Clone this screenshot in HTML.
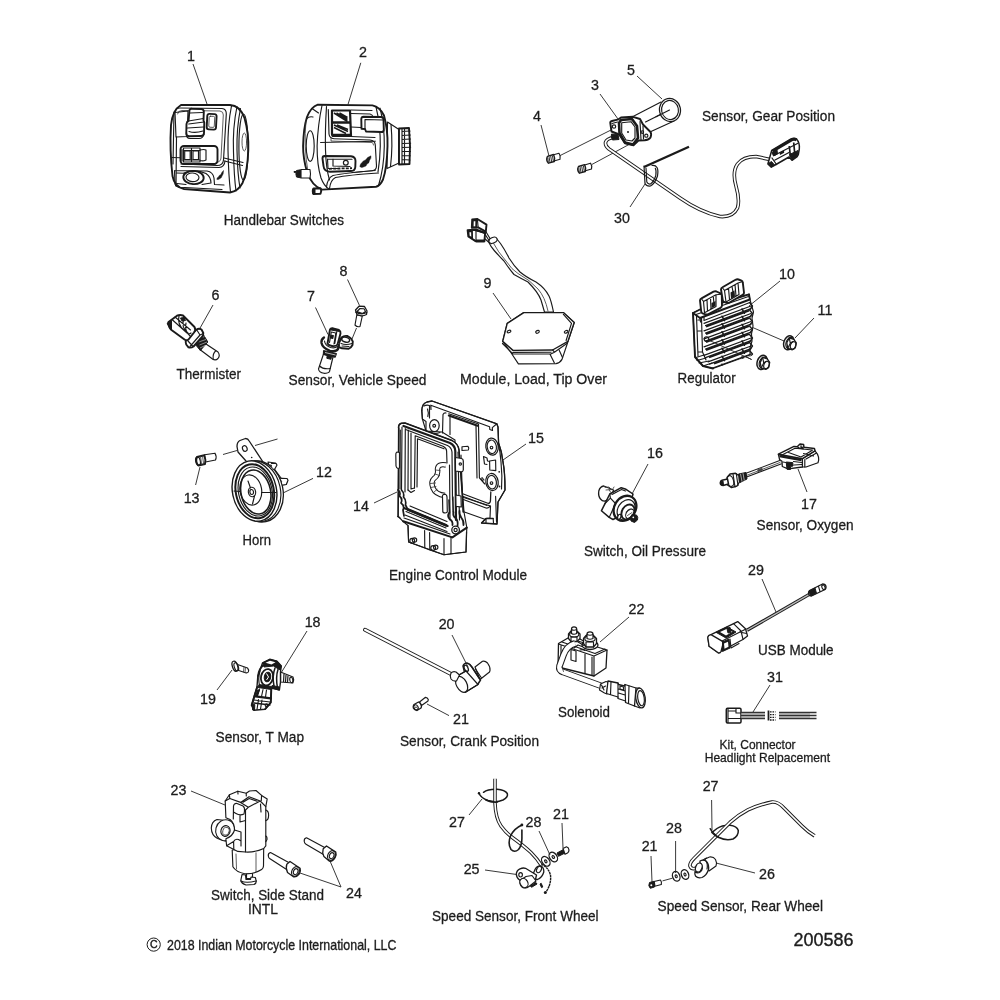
<!DOCTYPE html>
<html><head><meta charset="utf-8"><title>Electrical, Switches, Sensors and Components</title>
<style>
html,body{margin:0;padding:0;background:#fff;}
body{width:1000px;height:1000px;overflow:hidden;font-family:"Liberation Sans",sans-serif;}
svg{display:block;position:absolute;left:0;top:0;}
svg text{font-family:"Liberation Sans",sans-serif;fill:#1c1c1c;stroke:#1c1c1c;stroke-width:.28px;}
.n{font-size:14px;text-anchor:middle;}
.t{font-size:14px;}
.s{font-size:12.4px;}
.ld{stroke:#222;stroke-width:0.9;fill:none;}
.p{stroke:#1a1a1a;stroke-width:1.15;fill:none;stroke-linejoin:round;stroke-linecap:round;}
.pw{stroke:#1a1a1a;stroke-width:1.15;fill:#fff;stroke-linejoin:round;stroke-linecap:round;}
.pk{stroke:#1a1a1a;stroke-width:1;fill:#1a1a1a;stroke-linejoin:round;}
.th{stroke:#1a1a1a;stroke-width:1.9;fill:none;stroke-linejoin:round;stroke-linecap:round;}
.thw{stroke:#1a1a1a;stroke-width:1.9;fill:#fff;stroke-linejoin:round;stroke-linecap:round;}
.f{stroke:#333;stroke-width:0.8;fill:none;stroke-linejoin:round;stroke-linecap:round;}
.fw{stroke:#333;stroke-width:0.8;fill:#fff;stroke-linejoin:round;stroke-linecap:round;}
.g{stroke:#555;stroke-width:0.6;fill:none;}
</style></head><body>
<svg width="1000" height="1000" viewBox="0 0 1000 1000">
<rect width="1000" height="1000" fill="#fff"/>
<!-- p01.svg -->
<g id="p01">
<!-- left handlebar switch -->
<path class="thw" d="M181,105 L230,105 Q240,105.5 244.5,118 Q249,134 248.3,150 Q247.5,172 242.5,183 Q238,191.5 230,192.5 L184,189 Q174.5,187 172.5,176 Q169.5,150 171,125 Q172.5,110 181,105 Z"/>
<path class="p" d="M231.5,106 Q227.5,125 228,150 Q228.5,175 230.5,192"/>
<path class="p" d="M237,106.5 Q232.5,128 233.5,152 Q234,176 236,191"/>
<path class="p" d="M240.5,108.5 Q236.5,128 237,150 Q237.5,174 240,188"/>
<ellipse class="p" cx="243.5" cy="147" rx="4.6" ry="33"/>
<ellipse class="f" cx="244.3" cy="142" rx="2.3" ry="9"/>
<!-- inner panel frame -->
<path class="p" d="M175,112 Q175.5,108 180,108 L222,108.5 Q226.5,109 226.3,114 L223.5,160 Q223,165.5 217,165.5 L181,164"/>
<path class="f" d="M177.5,114 Q178,110.5 182,110.5 L220,111 Q223.5,111.5 223.3,115 L221,158 Q220.5,162.5 216,162.5"/>
<path class="p" d="M174,112 L173,164 M176.5,137 L176,186"/>
<!-- left recess -->
<path class="p" d="M175,112.5 L188,111 L187,136.5 L176,137 Z"/>
<!-- rocker -->
<path class="thw" d="M189.5,110 Q190,108.5 192,108.7 L201.5,109 Q203.8,109.3 203.8,112 L203.5,120.5 L204.3,122.5 L204,133 Q203.8,136 201,136 L189,136.3 Q186.3,136 186.3,133 L186.5,124 Q186.8,121.5 188.5,121 Z"/>
<path class="p" d="M188.5,121 L203.5,118.5 M188.7,124 L204,122 M190,113 L202.5,112.5 M187.5,128 L203.5,127 M189,131.5 Q195,133.5 203,131"/>
<path class="p" d="M186.3,133 Q186,138.5 190,138.5 L199,138.5 Q203,138.5 204,134"/>
<!-- small button -->
<rect class="th" x="207" y="114" width="9.3" height="15.5" rx="2.2" transform="rotate(3 211.6 121.7)"/>
<rect class="f" x="209" y="116.3" width="5.5" height="11" rx="1.2" transform="rotate(3 211.6 121.7)"/>
<!-- middle switch -->
<rect class="th" x="180.5" y="146" width="37" height="18" rx="3.5"/>
<path class="p" d="M182,149.5 L182,161 M183.5,148 L200,148 L200,162 L183.5,162 Z M191.5,148.5 L191.5,162 M200,150 Q204,149 206,150 L206,160 Q203,161.5 200,160.5"/>
<rect class="p" x="184.7" y="151" width="5.5" height="8.5"/><rect class="p" x="193" y="151" width="5.5" height="8.5"/>
<path class="p" d="M183.5,150.5 L200,150.5 M183.5,160 L200,160"/>
<path class="p" d="M181,166.5 L219,167.5 Q224.5,167 225,161"/>
<!-- seams -->
<path class="p" d="M171.5,157.5 L180.5,157.8 M224,158 L243,162.5 M224.5,161 L242.5,165.5"/>
<!-- bottom panel -->
<path class="p" d="M174.5,170.5 L207,171 Q213,172 214,178 L214.5,184.5 L224,185 M174.5,170.5 L175,184 Q176,187 180,187.3 L222,189.5"/>
<path class="p" d="M176.5,173 L184,173.2 M177,183.5 L186,184.5"/>
<ellipse class="th" cx="193.5" cy="177.5" rx="10.2" ry="6.6" transform="rotate(4 193.5 177.5)"/>
<ellipse class="p" cx="192.5" cy="177.3" rx="6.5" ry="4.3" transform="rotate(4 192.5 177.3)"/>
<path class="p" d="M184,173 Q196,169 206,173.5 Q211,177 211,183 L202,184.5"/>
<!-- logo -->
<path class="pk" d="M223.5,170.5 Q221.5,172.5 221,174.5 Q219,175 218.5,177 Q217,177.5 216.8,179.3 Q218.5,180 220,178.5 Q221.5,178 222,176 Q223.5,174.5 223.5,170.5 Z" style="stroke-width:.5"/>
</g>

<!-- p02.svg -->
<g id="p02">
<!-- right handlebar switch -->
<!-- knob -->
<path class="pw" d="M387.5,122 L399,129.5 L399,163 L387,168.5 Z"/>
<path class="thw" d="M399,128.5 L409,128 Q410.8,146 409.5,164 L399,164.5 Z"/>
<path class="p" d="M402,131.5 L410,131 M402,135.5 L410.3,135 M402,139.5 L410.5,139 M402,143.5 L410.6,143.2 M402,147.5 L410.6,147.3 M402,151.5 L410.5,151.5 M402,155.5 L410.2,155.7 M402,159.5 L409.9,160 M402,129 L402,164 M404.5,128.5 L404.5,164"/>
<path class="p" d="M391,124.5 Q393,146 390.5,166.5"/>
<!-- body -->
<path class="thw" d="M317.8,104.7 L372.4,105.4 Q380,107 384,115.5 Q388,130 387.5,146 Q387,168 383,179.5 Q380,186 376,186.8 L322,189.6 Q312,186 307,172 Q303,158 303.1,146 Q303.5,128 307,117 Q311,107 317.8,104.7 Z"/>
<path class="p" d="M322,105.5 Q317.8,125 317.1,146 Q317,165 321,178 Q324,186 329,189"/>
<path class="p" d="M326.5,106.5 Q325,130 325.5,150 Q326,168 329.5,180"/>
<path class="p" d="M312,108.5 L318.5,113 M306.5,119 Q309,116 313,117"/>
<ellipse class="p" cx="310.2" cy="146" rx="4" ry="15.3"/>
<path class="f" d="M306,121 Q303.5,146 308,172"/>
<path class="p" d="M380,108.2 Q384.5,125 384.3,146 Q384,168 378.5,185.5"/>
<path class="p" d="M376,106.8 Q380.5,125 380.3,146 Q380,160 378,172"/>
<!-- top recess -->
<path class="th" d="M332,110.5 L350,110.5 L351,136 L333.5,136 Q332,136 332,134 Z" style="stroke-width:2.2"/>
<path d="M333,122.5 L350.5,122.5 M333,135 L351,135" stroke="#1a1a1a" stroke-width="2.4"/>

<path d="M334,113 L347.5,121.5 M336.5,113 L347.5,119.5 M339.5,113 L347.5,117.5 M334,125 L348,131.5 M334,127.5 L346,133.5 M337,125 L348,129.5" stroke="#1a1a1a" stroke-width="1.5" fill="none"/>
<path class="p" d="M328.3,109.6 L329,134 Q329.5,138.5 334,138.7 L370,140 Q375,140.5 375.3,145 L376.5,166 Q376.5,170.5 372,170.7 L352,172.5"/>
<path class="p" d="M351,110 L372,110.5 M351,113.5 L370,114 Q372.5,114.5 373,117 M351,127 L361,127.5 M351,136.5 L375,137.5"/>
<path class="f" d="M331,138 L331,141 L372,142.5 Q373.5,143 373.5,145"/>
<!-- top right button -->
<path class="thw" d="M363.5,116.8 L381,117 Q383.5,117.2 383.5,119.5 L383.8,130 Q383.5,132 381.5,132 L366,131.5 L365,129 L361.5,128.7 L361.3,119 Q361.5,116.8 363.5,116.8 Z"/>
<path class="p" d="M365,119.5 L383.5,120 M365,119.5 L365,129"/>
<!-- seam -->
<path class="p" d="M320.6,142.5 L375.2,141.2"/>
<!-- lower switch -->
<path class="th" d="M324.5,156 L351,156.3 Q355.5,156.8 355.5,161 L355.3,167 Q355,171 351,171 L330,171.7 Q324,171.5 323.5,166 L322.5,158.5 Q322.5,156 324.5,156 Z"/>
<path class="p" d="M327.5,159 L352,159.3 M327.5,159 L328,168.5 L339,168.5 M333,159 L333,166 L350,166.5"/>
<path d="M329,168.8 L352,168.2" stroke="#1a1a1a" stroke-width="1.8" stroke-dasharray="3 1.2" fill="none"/>
<circle class="thw" cx="345.8" cy="162.8" r="2.4" style="stroke-width:1.2"/>
<!-- logo -->
<path class="pk" style="stroke-width:.4" d="M371,155.8 Q367,157 365.5,160 Q363,160.5 362,162.5 Q360.3,163.5 359.8,166.5 Q361.5,168.3 364,166.8 Q366.5,166.5 367,164 Q369.5,163 369.5,160.5 Q371.5,158.5 371,155.8 Z M365.5,161.5 Q367.5,161 368,159.5 Q366,160 365.5,161.5 Z M362.5,165 Q364.5,165 365,163.5 Q363,163.5 362.5,165 Z"/>
<!-- lower curve -->
<path class="p" d="M326.5,187 Q327.5,178 333,175.5 Q345,173 375.2,170.5 M329.5,188.5 Q330.5,180 335.5,177.5 Q348,175 378.5,173"/>
<!-- pin left -->
<path class="pw" d="M301,169.5 L310,169.5 Q311,174 310,178 L301,178 Z"/>
<path class="pk" d="M296.5,170.5 L300.5,169.8 L300.5,177.8 L296.5,177 Q295.3,174 296.5,170.5 Z M294,171.5 L296,171.5 L296,172.3 L294,172.3 Z"/>
<!-- peg bottom -->
<path class="thw" d="M313.5,188.5 L320.5,188.3 Q322,191 320.5,193.8 L313.5,194 Q312,191 313.5,188.5 Z"/>
<path class="pk" d="M312.5,189 L315,189 L315,194 L312.8,194 Z"/>
</g>

<!-- p03.svg -->
<g id="p03">
<!-- tube 5 -->
<path class="p" d="M661,102 L633,116.5 M669.5,110 L645.5,122 M674,121 L651,131.5"/>
<ellipse class="pw" cx="670" cy="110" rx="10.5" ry="11.6" transform="rotate(-12 670 110)" style="stroke-width:1.2"/>
<ellipse class="p" cx="670" cy="110" rx="8.4" ry="9.6" transform="rotate(-12 670 110)"/>
<path class="p" d="M669.5,110 L656,116.8"/>
<!-- axis lines to screws -->
<path class="ld" d="M560,155.6 L611,130 M592,164.4 L629,144.5"/>
<!-- wire -->
<path d="M614,137.5 Q606.5,138.5 605.5,142.5 Q605,146 609,149 L680,198 Q700,212 720,216.5 Q733,217.5 737.5,208 Q740,200 736,186 Q732,172 737.5,164 Q743,156.5 756,156.5 L770,159.5" stroke="#1a1a1a" stroke-width="3.6" fill="none" stroke-linejoin="round"/>
<path d="M614,137.5 Q606.5,138.5 605.5,142.5 Q605,146 609,149 L680,198 Q700,212 720,216.5 Q733,217.5 737.5,208 Q740,200 736,186 Q732,172 737.5,164 Q743,156.5 756,156.5 L770,159.5" stroke="#fff" stroke-width="1.7" fill="none" stroke-linejoin="round"/>
<!-- sensor 3 -->
<path class="thw" d="M610.3,123 Q610,121.5 612,121 L618.5,119.3 L621,117.5 L633,116.8 L640,119 L643,124.5 L650.5,132 Q651.8,134 650.5,137.5 Q649,140 644.5,140.3 L638.5,140.5 L633.5,145.2 L625,143.3 L619.5,135 L618,134 L611.5,131.5 Z"/>
<path class="th" d="M621,120 L632,119 L637,126 L638,138 L633,144.5 L625,142.5 L619.5,133 L619,123 Z" style="stroke-width:2.6"/>
<path class="p" d="M621.7,122.7 L631,121.7 L635,127 L635,138 L632,141 L626,140 L621.7,133 Z"/>
<circle cx="628" cy="132" r="1" fill="#1a1a1a"/>
<circle class="p" cx="614" cy="126.5" r="1.7"/>
<path class="p" d="M612,123.5 L617.5,122 M640,121.5 L641,139.5 M643,126 L643.5,139"/>
<circle class="p" cx="642.3" cy="132" r="1.3"/><circle class="p" cx="646.3" cy="135.7" r="1.6"/>
<path class="pk" d="M611.5,134 L618,134.5 L619,139.5 L612.5,140 Q610.5,137 611.5,134 Z"/>
<!-- screws 4 -->
<path class="pw" d="M553.5,154.8 L559,153.3 Q560.8,156 560,159.3 L554,161 Z"/>
<path class="thw" d="M547.5,156.3 L553.5,154.5 Q555.3,158 554.3,161.5 L548.5,163.2 Q545.5,160 547.5,156.3 Z" style="stroke-width:1.4"/>
<path d="M549,156.5 L550,162.5 M550.7,156 L551.7,162 M552.4,155.5 L553.4,161.5 M547.8,158 L548.3,162" stroke="#1a1a1a" stroke-width=".9"/>
<path class="pw" d="M584.5,165 L590.5,163.2 Q592.5,166 591.5,169 L585.5,170.8 Z"/>
<path class="thw" d="M578.5,166.5 L584.5,164.7 Q586.3,168 585.3,171.5 L579.5,173.2 Q576.5,170 578.5,166.5 Z" style="stroke-width:1.4"/>
<path d="M580,166.7 L581,172.7 M581.7,166.2 L582.7,172.2 M583.4,165.7 L584.4,171.7 M578.8,168.2 L579.3,172.2" stroke="#1a1a1a" stroke-width=".9"/>
<!-- clip 30 -->
<path d="M644,167 L689,146.7" stroke="#1a1a1a" stroke-width="2.3" fill="none"/>
<path class="p" d="M644,166 L645,183.5 Q646.5,186.5 650.5,186 Q655,183.5 657.5,176 Q658.5,170 657,167.5 Q655.5,165 652,165.5" style="stroke-width:1.2"/>
<path class="p" d="M646,168 L646.8,182 Q648,184.5 650.5,184 Q654,181.5 655.8,175.5 Q656.5,170.5 655.3,168.3" />
<!-- connector end -->
<path class="thw" d="M771.7,150.5 L791,139 Q794,137.6 796.5,139 Q800,143 799.3,149 L798.3,154.5 L796.8,157 L792,160.3 L789,157 L776,164.5 L771.3,167.2 L767.9,164 L769,160 Z" style="stroke-width:1.5"/>
<path d="M772.5,151.3 L792,139.8 Q794.5,138.6 796.5,140" stroke="#1a1a1a" stroke-width="2.8" fill="none"/>
<path class="p" d="M774,155.5 L797.5,143.5 M775,160 L789,152.5 M772,158 L776.5,164.5" style="stroke-width:1.3"/>
<path d="M789.3,146 L790.5,157.5 M793.7,142.5 L795,156.5" stroke="#1a1a1a" stroke-width="1.7" fill="none"/>
<path class="pk" d="M789.5,154.5 L798,150.5 L797,156.5 L792,160 Z M768.3,163.5 L771.5,161.5 L774.5,165 L771.3,167 Z M772,152.5 L777,150 L777.5,154 L773.5,156 Z"/>
<path d="M779.5,152.5 L784,150.2 L784.2,152.8 L780,155 Z" fill="#1a1a1a"/>
</g>

<!-- p06.svg -->
<g id="p06">
<!-- thermistor -->
<path class="pw" d="M204.5,343 L218,352 Q220.5,355.5 218,358.5 Q215.5,361 212.5,359 L200.5,350 Z"/>
<path class="p" d="M215.8,350.8 Q212.5,353.5 213.2,359.2"/>
<path class="pk" d="M196,336.5 L203,334 L207.8,342 L200.3,350.5 L195,344 Z"/>
<path d="M197.5,339 L204.5,336.5 M198.5,342 L206,339.5 M199.5,345 L207,342 M200,348 L205,345.5" stroke="#fff" stroke-width=".5" fill="none"/>
<path class="thw" d="M186,340 L196.5,329.5 Q199,328 201.5,329.5 L203.3,333 Q203.5,335 202,337 L193.5,346.5 Q191,348.3 188.5,347.3 L186.2,344.5 Q185.2,342 186,340 Z"/>
<path class="p" d="M196.5,329.5 L200,335 L203.3,333.5 M200,335 L190,346.5 M188,341 L193,346.5"/>
<path class="thw" d="M168.5,322 L177,315.7 Q180,314.3 183,315.5 L194.5,327 Q196,329.5 194,332.5 L188.5,339.5 Q186.5,341 184.5,339.5 L171.5,330 Q168,326.5 168.5,322 Z"/>
<path class="p" d="M172,319.5 L187,333 Q189.5,334.5 191,333 M175,317 L190.5,330 M179,316 Q177,324 184,330 M183.5,320 Q181,327 188,333 M186,323 Q184,331 190.5,336.5"/>
<path class="pk" d="M180.5,318 L184,317.5 L185.5,320.5 L182,321 Z M169,322.5 L171.5,321 L171.5,330 L169.5,327.5 Z"/>
<path class="p" d="M168.5,322 L167.3,323.5 L168,325"/>
</g>

<!-- p07.svg -->
<g id="p07">
<!-- bolt 8 -->
<path class="ld" d="M356.5,328 L352,339"/>
<path class="pw" d="M356.8,315 L355,325 Q357,327.3 360,326.5 L362.3,316 Z"/>
<path class="thw" d="M355.5,310 L359,306.2 L364.5,306.5 L367,311 L366.5,314.5 Q362,317 357,314.7 Z" style="stroke-width:1.3"/>
<path class="p" d="M357,311.5 L360,308.5 L364,308.8 L365.5,311.5 L362.5,313.5 Z M355.5,312 Q361,315.5 366.8,312.5"/>
<!-- sensor 7 lower cylinder -->
<path class="pw" d="M323.5,354 L318.5,369 Q319,372.5 324,373.3 Q328.5,373.3 329.5,371.5 L333,357 Z"/>
<path class="p" d="M319.5,366 Q323,369.5 330.2,368.5"/>
<!-- body dark -->
<path class="pk" d="M323.5,350.5 L336.5,353.5 L335.3,357.3 L331.5,356.5 L331,359.3 L326.8,358.3 L327.2,355.5 L323.3,354.5 Z"/>
<path d="M325,352.5 L335.5,355" stroke="#fff" stroke-width=".7"/>
<!-- ear -->
<path class="thw" d="M339,343 L341.5,337.5 Q344,335.3 347.5,336 Q351.5,338 352.8,341.5 L352.5,345 Q351,348 348.5,348.8 L342,348.3 L338.5,347 Z"/>
<ellipse class="th" cx="345.7" cy="339.7" rx="4" ry="2.4" transform="rotate(15 345.7 339.7)" style="stroke-width:1.4"/>
<path class="p" d="M341,343.5 Q346,345.5 352,343.5 M342,346 L349,346.5"/>
<!-- flange -->
<path class="pw" d="M324,337.5 Q321,339.5 321.5,343 Q322.5,348 330,350.8 Q336,352 338,349 L339,343 L330,338 Z" style="stroke:none"/>
<path class="th" d="M324,337.5 Q321,339.5 321.5,343 Q322.5,348 330,350.8 Q336,352 338,349 L338.8,345" style="stroke-width:2.3"/>
<path class="p" d="M324.5,341 Q325,345.5 330.5,347.5 Q335,348.5 337.5,346.5"/>
<!-- top connector -->
<path class="thw" d="M327.5,343.5 L330,329.5 Q330.8,327.8 333,328.3 L339,330 Q340.8,331 340.5,333.5 L337.5,344.5 Q336,346.5 332,346 Q328.5,345.5 327.5,343.5 Z"/>
<path class="p" d="M329.5,342.5 L331.3,332 L335.8,333 L334,344 M336.8,331.5 L334.8,343.5"/>
<rect class="pk" x="330.8" y="335.3" width="2.3" height="3" transform="rotate(10 332 337)"/>
<path class="pk" d="M331,328.5 L339,330.3 L339.5,331.5 L331,330 Z"/>
</g>

<!-- p09.svg -->
<g id="p09">
<!-- cable -->
<path class="pw" d="M488.6,242 Q491,247 494.2,250.5 Q500,257 504,261 Q510,270 514,274.5 Q522,279 528,282 Q538,292 541,300 L544.5,312 L553.5,312 Q551,300 549,296 Q545,288 536,282 Q526,277 520,272 Q514,266 509,258 Q505,250 500.5,243.5 L496.5,238.5 Q491,237 488.6,242 Z"/>
<path class="f" d="M493,242.5 Q498,252 506,261 Q512,270 518,273.5 Q530,280 538,289 Q545,297 548,311"/>
<ellipse class="pw" cx="493" cy="240.3" rx="4.3" ry="2.8" transform="rotate(-25 493 240.3)"/>
<path class="p" d="M485.8,231.5 L490,238.5 M485.5,235 L489,240.5 M484.5,238.5 L488.5,242"/>
<!-- connector -->
<path class="thw" d="M472.2,219.4 L477.4,219 L486.5,224.6 L485.8,231.6 L478.1,227.4 L471.8,227.8 Z"/>
<path class="th" d="M473,220.5 L476.3,220.2 L476.2,227 L472.8,227.2 Z" style="stroke-width:1.5"/>
<path class="p" d="M477.4,219 L478.1,227.4 M476.3,221 L476.2,226.5"/>
<path class="thw" d="M467.6,230.2 L476,229.5 L485.1,233 L484.4,241.4 L476,241.4 L468.3,236.5 Z"/>
<path class="th" d="M468.6,231.5 L472,231.2 L472.2,238 L469,236.5 Z" style="stroke-width:1.5"/>
<path class="pk" d="M472,229.9 L485,232.3 L485,233.5 L476,230.8 Z M476,240 L484.4,240 L484.4,241.8 L476,241.8 Z"/>
<path class="p" d="M476,229.5 L476,241.4 M472,231 L472.3,238.5 M471,238 L476,241.4"/>
<!-- module -->
<path class="pw" d="M511.2,353 L518.4,363.9 L556,363.6 Q560,363 562,359.4 L567.5,343 L574.2,322.5 L563.4,312.6 L523.8,312.6 L507.2,323.4 L502.7,341.4 Z"/>
<path class="thw" d="M523.8,312.6 L563.4,312.6 L574.2,322.5 L567.9,341.4 L552.6,350 L513,350.4 L502.7,341.4 L507.2,323.4 Z" style="stroke-width:1.4"/>
<path class="p" d="M563.4,314.4 L571.5,323.4 L566.1,340.5 M502.5,343.5 L513,354 L550.8,354 L554.4,352.2 L567.2,343.2 M513,352.3 L551,352.2 M549.9,354 L554.4,363 M559.3,350.4 L562.5,357.6 M552.6,350 L554.5,352.2"/>
<ellipse class="p" cx="509" cy="331.5" rx="1.9" ry="1.2" transform="rotate(-25 509 331.5)"/>
<ellipse class="p" cx="537.5" cy="331.8" rx="1.9" ry="1.3" transform="rotate(-25 537.5 331.8)"/>
<ellipse class="p" cx="566.1" cy="331.8" rx="1.9" ry="1.2" transform="rotate(-25 566.1 331.8)"/>
</g>

<!-- p10.svg -->
<g id="p10">
<path class="ld" d="M748,325.5 L784,341 M712,340 L751.6,359.5"/>
<path class="pw" d="M693,313 L700,309.5 L749,294.3 L749.8,299 L751.5,305 L753.5,312 L752,318 L753,326 L751.5,334 L752,341 L750,348 L750,355 L713,368.5 L703,366 L695,357 Z"/>
<clipPath id="rg"><path d="M693,313 L700,309.5 L749,294.3 L754,299 L754,355 L713,368.5 L703,366 L695,357 Z"/></clipPath><g clip-path="url(#rg)">
<path class="p" d="M751,306 L704,323.4 M751,308.6 L705.5,325.6"/>
<path class="th" d="M749.5,302.5 L752.5,306 L750,309.5" style="stroke-width:1.3"/>
<path class="th" d="M722,316.2 L724.5,320.7" style="stroke-width:1.5"/>
<path class="th" d="M742,308.8 L744.5,313.3" style="stroke-width:1.5"/>
<path class="p" d="M751,313.5 L704,330.9 M751,316.1 L705.5,333.1"/>
<path class="th" d="M749.5,310.0 L752.5,313.5 L750,317.0" style="stroke-width:1.3"/>
<path class="th" d="M722,323.7 L724.5,328.2" style="stroke-width:1.5"/>
<path class="th" d="M742,316.3 L744.5,320.8" style="stroke-width:1.5"/>
<path class="p" d="M751,321.5 L704,338.9 M751,324.1 L705.5,341.1"/>
<path class="th" d="M749.5,318.0 L752.5,321.5 L750,325.0" style="stroke-width:1.3"/>
<path class="th" d="M722,331.7 L724.5,336.2" style="stroke-width:1.5"/>
<path class="th" d="M742,324.3 L744.5,328.8" style="stroke-width:1.5"/>
<path class="p" d="M751,329.5 L704,346.9 M751,332.1 L705.5,349.1"/>
<path class="th" d="M749.5,326.0 L752.5,329.5 L750,333.0" style="stroke-width:1.3"/>
<path class="th" d="M722,339.7 L724.5,344.2" style="stroke-width:1.5"/>
<path class="th" d="M742,332.3 L744.5,336.8" style="stroke-width:1.5"/>
<path class="p" d="M751,338 L704,355.4 M751,340.6 L705.5,357.6"/>
<path class="th" d="M749.5,334.5 L752.5,338 L750,341.5" style="stroke-width:1.3"/>
<path class="th" d="M722,348.2 L724.5,352.7" style="stroke-width:1.5"/>
<path class="th" d="M742,340.8 L744.5,345.3" style="stroke-width:1.5"/>
<path class="p" d="M751,346 L708,361.9 M751,348.6 L709.5,364.1"/>
<path class="th" d="M749.5,342.5 L752.5,346 L750,349.5" style="stroke-width:1.3"/>
<path class="th" d="M722,356.2 L724.5,360.7" style="stroke-width:1.5"/>
<path class="th" d="M742,348.8 L744.5,353.3" style="stroke-width:1.5"/>
<path class="p" d="M751,354 L712,368.4 M751,356.6 L713.5,370.6"/>
<path class="th" d="M749.5,350.5 L752.5,354 L750,357.5" style="stroke-width:1.3"/>
<path class="th" d="M722,364.2 L724.5,368.7" style="stroke-width:1.5"/>
<path class="th" d="M742,356.8 L744.5,361.3" style="stroke-width:1.5"/>
<path d="M749,310.6 L706,326.5" stroke="#1a1a1a" stroke-width="1.9" fill="none"/>
<path d="M749,318.1 L706,334.0" stroke="#1a1a1a" stroke-width="1.9" fill="none"/>
<path d="M749,326.1 L706,342.0" stroke="#1a1a1a" stroke-width="1.9" fill="none"/>
<path d="M749,334.1 L706,350.0" stroke="#1a1a1a" stroke-width="1.9" fill="none"/>
<path d="M749,342.6 L709,357.4" stroke="#1a1a1a" stroke-width="1.9" fill="none"/>
<path d="M749,350.6 L714,363.6" stroke="#1a1a1a" stroke-width="1.9" fill="none"/>
</g>
<path class="th" d="M693,313 L695,357 L703,366 L713,368.5" />
<path class="p" d="M696.5,316 L698,356 M701.5,318 L702.5,352 L706,360 M698,320 L701.5,320 M698,331 L702,331 M698,352 L702.5,352"/>
<path class="p" d="M696,357.5 L704,355 M697,360.5 L706,358 M699,363 L709,361 M703,366 L712,363"/>
<circle class="p" cx="706.5" cy="339" r="2.3"/>
<path class="thw" d="M693,313 L700,309.5 L749,294.3 L749.8,299.5 L704,316.5 L700,318 Z"/>
<path class="p" d="M696,314.5 L748.5,296.5 M704,316.5 L704,320.5 L749.8,302.5 M700,318 L700.5,322"/>
<path class="thw" d="M700,300.5 Q700,299 701.5,298.3 L713.5,291.7 Q715,291 716.5,291.5 L720.5,293.3 Q721.8,294 721.8,295.5 L722,305.5 Q722,307 720.5,307.8 L708.5,314 Q707,314.8 705.5,314.3 L702.5,313.3 Q701.3,312.8 701.2,311.3 Z"/>
<path class="p" d="M703.5,301.5 L716,294.8 L716,306.5 L704.5,312.7 Z M707,299.7 L707.5,311 M710.5,297.8 L711,309 M713.3,296.3 L713.8,302 M702,299.5 L703.5,301.5 M716,294.8 L721,294.3"/>
<path d="M711.5,303 L715.5,301 L715.5,306 L711.5,308.3 Z" fill="#1a1a1a"/>
<path class="thw" d="M721,289.5 Q721,288 722.5,287.3 L735.5,279.8 Q737,279 738.5,279.5 L741.5,280.7 Q742.7,281.2 742.8,282.7 L744,292.5 Q744.2,294 742.7,294.8 L729.5,302.5 Q728,303.3 726.5,302.8 L724,301.8 Q722.8,301.3 722.7,299.8 Z"/>
<path class="p" d="M724.5,290.5 L738,283 L739,294.5 L726,302 Z M728.5,288.3 L729.5,299.5 M732,286.5 L733,292 M735,284.7 L736,296 M723,288.5 L724.5,290.5 M738,283 L742,281.7"/>
<path d="M730.5,292.5 L734.5,290.3 L735,296.5 L731,298.8 Z" fill="#1a1a1a"/>
<path class="ld" d="M708.5,340 L751.6,359.5"/>
<ellipse class="thw" cx="788.8" cy="342.8" rx="5" ry="7.2" transform="rotate(18 788.8 342.8)" style="stroke-width:1.5"/>
<ellipse class="p" cx="789.8" cy="343.1" rx="3.8" ry="5.8" transform="rotate(18 789.8 343.1)"/>
<path class="thw" d="M789.3,337.8 L793.8,339.3 L796.3,342.8 L795.3,347.8 L792.3,349.8 L787.8,348.3 L786.8,342.8 Z" style="stroke-width:1.3"/>
<ellipse class="p" cx="793.0999999999999" cy="345.40000000000003" rx="2.6" ry="3.8" transform="rotate(18 793.0999999999999 345.40000000000003)" style="stroke-width:1.2"/>
<path class="p" d="M789.3,337.8 L790.3,343.3 L787.8,348.3 M790.3,343.3 L792.8,341.8"/>
<ellipse class="thw" cx="762.2" cy="362.4" rx="5" ry="7.2" transform="rotate(18 762.2 362.4)" style="stroke-width:1.5"/>
<ellipse class="p" cx="763.2" cy="362.7" rx="3.8" ry="5.8" transform="rotate(18 763.2 362.7)"/>
<path class="thw" d="M762.7,357.4 L767.2,358.9 L769.7,362.4 L768.7,367.4 L765.7,369.4 L761.2,367.9 L760.2,362.4 Z" style="stroke-width:1.3"/>
<ellipse class="p" cx="766.5" cy="365.0" rx="2.6" ry="3.8" transform="rotate(18 766.5 365.0)" style="stroke-width:1.2"/>
<path class="p" d="M762.7,357.4 L763.7,362.9 L761.2,367.9 M763.7,362.9 L766.2,361.4"/>
</g>

<!-- p12.svg -->
<g id="p12">
<!-- axis lines -->
<path class="ld" d="M223,454.5 L237,450.5 M255,445.5 L277.5,439"/>
<!-- screw 13 -->
<path class="pw" d="M204.5,454.8 L215,453.2 Q217,456.5 215.5,460 L205.5,462 Z"/>
<path class="thw" d="M197,457 L204.3,455.3 Q206,459.5 205,464 L198.3,465.5 Q195,461.5 197,457 Z"/>
<ellipse class="p" cx="198" cy="461.2" rx="2.3" ry="4.2" transform="rotate(-12 198 461.2)"/>
<path class="f" d="M200.5,456.3 L201.7,465 M202.5,455.8 L203.7,464.5"/>
<!-- terminals -->
<path class="pw" d="M268,462 L275.5,463 L276.3,464.5 L273,469.5 L270,470 Z"/>
<path class="pw" d="M277,478 L286.5,478.5 L287.5,480 L286,484.5 L279,485.5 Z"/>
<path class="p" d="M270,465 L274.5,466 M279.5,481 L285,481.5 M272,470 L279,478 M274,468.5 L281,478"/>
<!-- bracket -->
<path class="thw" d="M237,446.5 Q237,442 240,440.5 L245.5,438.5 Q248,438.5 249.2,441 L264,463.5 L256,468 L246,461 L238,452 Z" style="stroke-width:1.3"/>
<ellipse class="p" cx="244.8" cy="448.5" rx="2.3" ry="2.9" transform="rotate(-20 244.8 448.5)"/>
<circle cx="251.7" cy="457.5" r=".8" fill="#1a1a1a"/>
<!-- horn back rim -->
<ellipse class="thw" cx="259.5" cy="491.5" rx="23.5" ry="30.8" transform="rotate(-12 259.5 491.5)" style="stroke-width:1.3"/>
<ellipse class="p" cx="257.5" cy="491.3" rx="23" ry="30.6" transform="rotate(-12 257.5 491.3)"/>
<!-- front -->
<ellipse class="thw" cx="254.5" cy="491" rx="22" ry="30.5" transform="rotate(-12 254.5 491)" style="stroke-width:1.4"/>
<ellipse class="th" cx="254.8" cy="491.2" rx="19" ry="27.3" transform="rotate(-12 254.8 491.2)" style="stroke-width:2"/>
<ellipse class="p" cx="255.3" cy="491.5" rx="16.8" ry="24.8" transform="rotate(-12 255.3 491.5)"/>
<ellipse class="th" cx="255.8" cy="492" rx="14.8" ry="22.3" transform="rotate(-12 255.8 492)" style="stroke-width:1.6"/>
<ellipse class="p" cx="250.8" cy="490" rx="10.8" ry="15.2" transform="rotate(-10 250.8 490)"/>
<ellipse class="p" cx="252" cy="492" rx="3.6" ry="4.8" transform="rotate(-10 252 492)"/>
<ellipse class="p" cx="251.7" cy="492" rx="1.8" ry="2.5" transform="rotate(-10 251.7 492)"/>
<path class="p" d="M234,491 L240,491.5 M261.5,492.5 L276,492.5 M248,481 L250.5,488 M254.5,496 L252.5,504"/>
<path class="pw" d="M271.5,463.5 L276,463.5 L277,465 L274.5,469.5 L272.8,469" style="stroke-width:1.2"/>
<path class="pw" d="M281.5,478.5 L287,478.5 L288,480.2 L286.3,484.5 L282.8,485" style="stroke-width:1.2"/>
</g>

<!-- p14.svg -->
<g id="p14">
<!-- back bracket 15 -->
<path class="pw" d="M421.8,410.6 Q422,403.5 427,402 L432,401 L496.8,423.8 L498,427 L498.6,443 Q502,452 503,462 Q505,472 505,490 L498,502 L497,524 L481.5,523 L486,518.5 L490,518 L490.5,506 L462,497 L455,470 L455,440 L442,432 L426,431 L422.4,419 Z"/>
<path class="th" d="M421.8,410.6 Q422,403.5 427,402 L432,401 L496.8,423.8 L498,427 L498.6,443 Q502,452 503,462 Q505,472 505,490 L498,502 L497,524 L481.5,523 L486,518.5 L493.2,518.5" style="stroke-width:1.3"/>
<path class="p" d="M430.8,405.2 L489.6,426.8 L489.8,429.5 L492.5,430.5 L492.3,427.6 L496.8,423.8 M430.8,405.2 L431,409.5 M421.8,410.6 L422.4,419 L426,421.4 L426,431 M424,406 Q426.5,404.5 429.5,405.5 L429.5,418"/>
<path class="th" d="M448.8,415.5 L477.6,425.8" style="stroke-width:2"/>
<path class="p" d="M446,413 Q444,412.5 443,414.5 L442.5,433 M450,417 L450,434.5 M448.8,413.8 L478.5,424 L479.4,477.8 L484.8,484 M476,426 L477,478"/>
<ellipse class="thw" cx="434.4" cy="425.6" rx="4.8" ry="6" style="stroke-width:1.2"/><circle class="p" cx="434.2" cy="425.8" r="1.4"/>
<path class="p" d="M427.5,409 Q429,413 427.8,416.5 M429.8,432 Q434,434.5 440,432.5"/>
<!-- circles right -->
<ellipse class="thw" cx="492" cy="446.6" rx="6.2" ry="8.6" transform="rotate(-8 492 446.6)" style="stroke-width:1.2"/>
<ellipse class="p" cx="491.8" cy="446.8" rx="4.6" ry="6.8" transform="rotate(-8 491.8 446.8)"/><circle class="p" cx="491.5" cy="447.5" r="1.3"/>
<ellipse class="thw" cx="492" cy="482" rx="6.2" ry="8.6" transform="rotate(-8 492 482)" style="stroke-width:1.2"/>
<ellipse class="p" cx="491.8" cy="482.2" rx="4.6" ry="6.8" transform="rotate(-8 491.8 482.2)"/><circle class="p" cx="491.5" cy="483" r="1.3"/>
<path class="p" d="M498,443 Q500.5,452 501,462 Q502.5,476 501.5,489"/>
<!-- clip -->
<path class="th" d="M483.5,456.5 L484.5,464 L487,464.5 M483.5,456.5 L487,458 L487.5,461 L490,461.5" style="stroke-width:1.2"/>
<path class="pw" d="M489.6,461 L495.6,460 L495.8,470.6 L489.8,470 Z"/>
<circle cx="499.2" cy="471.8" r=".9" fill="#1a1a1a"/><circle cx="499.5" cy="486.5" r=".9" fill="#1a1a1a"/>
<path class="p" d="M481,478.5 L483,481 M482,477.5 L484,480"/>
<!-- bottom rail -->
<path class="th" d="M462,493.5 L488.5,503.5 Q490.5,503 490.5,500 L490.8,492" style="stroke-width:1.3"/>
<path class="p" d="M462,496 L487,505.5 M462,499 L486,508 Q489,508.5 490,506 M464.4,512 L484.8,519.2 M493.2,518.5 L493.5,523.5 M495.6,496.4 L496.5,521.6 M486,518.5 L486,522.5"/>
<!-- front ECM 14 -->
<path class="pw" d="M398.5,427.5 Q398.5,424 401.5,423.3 L405,423 L452,440.5 Q458.5,444 459,450 L464,512 L466.8,527.6 L466,552 L444,554.8 L408.6,542 L408,525.5 L403.2,521.6 L398,516 Z"/>
<path class="th" d="M398.5,427.5 Q398.5,424 401.5,423.3 L405,423 L452,440.5 Q458.5,444 459,450 L463.5,512" style="stroke-width:1.4"/>
<path class="th" d="M403.5,426 L450,443 Q455,445.5 455.3,451 L456,520" style="stroke-width:2.2"/>
<path class="p" d="M405.6,429.5 L447.5,445.5 Q451.5,447.5 452,452 L452.5,500"/>
<path class="p" d="M415.2,435.8 L443,446.3 Q446.5,448 446.6,451 L447,463 M415.2,435.8 L414.5,488 M417.5,438.8 L444,448.8 M417.5,438.8 L417,487"/>
<!-- left rails -->
<path class="th" d="M399,428 L398.2,516" style="stroke-width:1.3"/>
<path class="p" d="M402,427 L401.5,490 M405.3,428.5 L405,492 M400.3,430 L400,489 M408.3,430 L408,490 M411,433 L411,489 L414.5,488"/>
<path class="pw" d="M397,452 Q395.5,453 395.8,455 L396,466 Q396.3,468 398,468.5 L399.5,468 L399.5,452.5 Z"/>
<path class="th" d="M398,490 Q401,492 399.5,496 Q403,499 401,503 Q405,506 403,510 L404,516 M401.5,490 Q404.5,493 403.5,497 Q406.5,500 405.5,505 L408,510" style="stroke-width:1.7"/>
<path class="p" d="M408,490 L411,492.5 L414.5,490.5 M397.5,516.5 L400,518"/>
<!-- hose -->
<path d="M446,465 Q438,463.5 437.5,469 Q438.5,475.5 434,478.5 Q430.5,481.5 433,488 Q435.5,494.5 445,495.5" stroke="#1a1a1a" stroke-width="5.4" fill="none"/>
<path d="M446,465 Q438,463.5 437.5,469 Q438.5,475.5 434,478.5 Q430.5,481.5 433,488 Q435.5,494.5 445,495.5" stroke="#fff" stroke-width="3.4" fill="none"/>
<path class="f" d="M435.5,470 L440,470.5 M435,474 L439.5,475.5 M430.5,483.5 L435.5,483 M431,487.5 L436,486.5 M433.5,492.5 L437,489.5"/>
<path class="pw" d="M442.5,497 Q442,494.5 444.5,494.3 Q447,494.5 447,497 L447.3,512 Q445,514 442.8,512 Z"/>
<!-- right rail details -->
<path class="p" d="M458,452 L459.5,520 M461,455 L463,512 M449.5,465 L450,520"/>
<path class="pw" d="M462,446.8 L468,446.3 Q469.5,448 468.3,450 L462,450.5 Z"/>
<path class="thw" d="M455.4,457.5 L461.5,458.5 Q463.3,459 463.3,461 L463.3,470 Q463,472 461,471.8 L455.5,471 Z" style="stroke-width:1.2"/>
<circle class="p" cx="460.3" cy="464" r="1.2"/>
<path class="thw" d="M455.8,495 L461,496 L461.3,507 L456,506.3 Z" style="stroke-width:1.2"/>
<path class="th" d="M449,513 Q447,516 449.5,519 Q453,521 452.5,525 M453.5,512 Q452.5,516 455.5,518 Q458.5,521 457.5,526 M459.5,511 Q459,515 461.5,518 Q464,521 463.5,525" style="stroke-width:1.8"/>
<path class="th" d="M449,500 L449.5,513 M452.8,497 L453.2,512" style="stroke-width:1.6"/>
<circle class="thw" cx="455.6" cy="530" r="3.8" style="stroke-width:1.3"/><circle class="p" cx="455.6" cy="530" r="1.6"/>
<!-- bottom frame -->
<path class="th" d="M404,508 L447.6,526 M403.2,521.3 L452.4,537.4 L466.8,527.6" style="stroke-width:2"/>
<path class="th" d="M408,509.5 L446,525.3" style="stroke-width:2.6"/>
<path class="p" d="M406,511.5 L446,528 M405,515 L447,531.5 M404,518 L450,534 M410,506 L447,521.5"/>
<path d="M424.5,516 L431,518.7" stroke="#1a1a1a" stroke-width="1.6"/>
<!-- connectors -->
<path class="p" d="M408,525.5 L408.6,542 L424.8,548 L424.6,530.5 M429.6,532.5 L429.8,550 L444,554.8 L466,552 L466.5,532 M444,538.5 L444,554.8 M451,537 L451,554 M424.8,548 L429.8,550"/>
<circle class="p" cx="412.2" cy="540.8" r="2.4"/><circle class="p" cx="414.5" cy="540" r="2.2"/>
<circle class="p" cx="433.2" cy="548" r="2.4"/><circle class="p" cx="435.7" cy="547.3" r="2.2"/>
</g>

<!-- p16.svg -->
<g id="p16">
<!-- back cylinder -->
<path class="thw" d="M603.8,486 Q600,486.5 598.8,491 Q598,496 600.5,499 Q602.5,501.5 605,501 L611,498 L613.5,490 Z" style="stroke-width:1.3"/>
<path class="f" d="M605,487.5 L609,487 Q611,488 610,490 M606,490 L612.5,489.5 L614,487 M609,490 L611,492.5"/>
<!-- hex body -->
<path class="thw" d="M601.4,510.8 L605,503.6 L609.8,494 L621.2,487.7 L626,489.3 L633,494 L628,512 L613,519.5 L609.2,517.4 Z" style="stroke-width:1.5"/>
<path class="p" d="M609.8,494 L610.4,498.2 L615.5,503.5 L627,495.5 M605,503.6 L610.4,498.2 M615.5,503.5 L609.2,517.4 M612,494.5 L621.5,489.5 L625.5,491"/>
<!-- flange rings -->
<ellipse class="thw" cx="625" cy="508.3" rx="10.6" ry="13.2" transform="rotate(32 625 508.3)" style="stroke-width:2.3"/>
<ellipse class="p" cx="626.2" cy="509.8" rx="8.3" ry="10.8" transform="rotate(32 626.2 509.8)"/>
<ellipse class="th" cx="628" cy="512" rx="6" ry="8" transform="rotate(32 628 512)" style="stroke-width:1.9"/>
<ellipse class="p" cx="630" cy="514" rx="3.8" ry="5.3" transform="rotate(32 630 514)"/>
<ellipse class="pw" cx="619.3" cy="516.8" rx="1.5" ry="2.6" transform="rotate(20 619.3 516.8)"/>
<path class="f" d="M626,512 L631,509 M627.5,515.5 L632,512.5"/>
<!-- terminal -->
<path class="pk" d="M632,514.5 L636.5,515 Q638.5,517 637.5,520 L634.5,522.5 L631,521 Q629.5,517.5 632,514.5 Z"/>
<circle cx="633.3" cy="517.3" r=".9" fill="#fff"/>
</g>

<!-- p17.svg -->
<g id="p17">
<!-- wire -->
<path d="M744,476 L781,462" stroke="#1a1a1a" stroke-width="4.6" fill="none"/>
<path d="M744,476 L781,462" stroke="#fff" stroke-width="2.6" fill="none"/>
<path d="M757.5,470.8 L762.5,469" stroke="#555" stroke-width="3" fill="none"/>
<path class="f" d="M745,476 L780,462.5"/>
<!-- boot ribs -->
<path class="pk" d="M738.5,474 L746,472.5 L747,479 L740,482.5 Z"/>
<path d="M740.5,473.8 L742,481.5 M743,473.3 L744.3,480.5" stroke="#fff" stroke-width=".6"/>
<!-- hex -->
<path class="thw" d="M727,477.5 L730,474 L735.5,473.3 L738.8,475.5 L739.5,482 L737,486 L731.5,487.6 L727.5,485 Z" style="stroke-width:1.4"/>
<ellipse class="p" cx="730.5" cy="481" rx="3" ry="5.5" transform="rotate(-15 730.5 481)"/>
<path class="p" d="M733,474 L735,487 M736.3,473.5 L738,485.5"/>
<!-- tip -->
<path class="thw" d="M722,480.3 L727.5,479 L728.5,484 L723,485.5 Q720,485 720.3,482.5 Q720.5,480.8 722,480.3 Z" style="stroke-width:1.5"/>
<path class="pk" d="M720.5,481.5 L723,481 L723.5,485 L721.3,485.2 Z"/>
<!-- connector -->
<path class="pw" d="M802.4,458.7 L815,450.8 Q820.3,456.5 818,462.8 L806,467 L802.4,467 Z" style="stroke-width:1.2"/>
<path class="thw" d="M778.4,454.4 L779.6,459.5 L782,461.3 L782.3,466.5 L788,468.8 L802.4,467 L802.4,458.7 Z" style="stroke-width:1.3"/>
<path class="thw" d="M778.4,454.2 L794,446.4 L797.2,446.7 L800,444 L803.6,444.6 L803.9,447.2 L814.4,448.5 L815,450.8 L802.4,458.7 Z" style="stroke-width:1.5"/>
<path class="p" d="M781.5,455.3 L795,448.3 L812.5,450 M797.2,446.7 L801,449 M801,445.5 L801.2,449 M788.5,452.5 L801,457 L812,450.5 M803.5,453.5 L813.5,456 M804.8,459.6 L804.8,467 M806,459 L816.5,453"/>
<path d="M779.5,456.2 L801.5,460.2" stroke="#1a1a1a" stroke-width="2.2" fill="none"/>
<path d="M800.5,446.5 L803.5,446.8 L803.8,449.5 L800.8,449 Z" fill="#1a1a1a"/>
<path class="pk" d="M786.2,462 L792.8,462.6 L793,466 L790.5,466.5 L790.5,469.5 L787,469.3 Z"/>
<path class="p" d="M793.5,461.5 L801.5,462.5 M794,465 L802,464.5 M783,462 L785.8,462.5"/>
</g>

<!-- p18.svg -->
<g id="p18">
<!-- bolt 19 -->
<path class="pw" d="M237.5,664.5 L247.5,668 Q249.3,670 248.3,672 Q247.3,673.3 245.5,672.7 L236.5,669.8 Z"/>
<ellipse class="thw" cx="235" cy="666.2" rx="2.6" ry="5.2" transform="rotate(-18 235 666.2)" style="stroke-width:1.3"/>
<ellipse class="p" cx="236.3" cy="666.7" rx="2" ry="4.2" transform="rotate(-18 236.3 666.7)"/>
<path class="f" d="M244,667 L243.5,672 M245.5,667.5 L245,672.5"/>
<!-- nozzle -->
<path class="thw" d="M280.5,672 L293,677 Q294.5,680 292.8,683 L280.5,682 Z" style="stroke-width:1.2"/>
<path d="M284,674 L283.5,682 M286,675 L285.5,682.3 M288,675.6 L287.5,682.5" stroke="#1a1a1a" stroke-width="1.2"/>
<ellipse class="p" cx="291.3" cy="680" rx="1.5" ry="2.8" transform="rotate(-10 291.3 680)"/>
<!-- body -->
<path class="thw" d="M262.6,662.8 L269.8,659.3 L277,661.2 L281.3,666 L280.5,672 L280.5,682 L279.4,690 L271.5,687.5 L270.6,702.8 L265,709.3 L254,710.3 L251.4,705.2 L257,686.8 L257.8,676.4 Z" style="stroke-width:1.4"/>
<!-- top cap -->
<path class="pk" d="M262.6,662.8 L269.8,659.3 L277,661.2 L281.3,666 L280.2,670 L273.5,666 L264,667 Z"/>
<path d="M265.5,662.8 L270,660.8 L275.5,662.3 L271.5,664.5 Z" fill="#fff"/>
<!-- ring -->
<ellipse class="th" cx="267" cy="677.3" rx="6" ry="8.3" transform="rotate(12 267 677.3)" style="stroke-width:1.8"/>
<ellipse class="pk" cx="267.5" cy="677" rx="3.2" ry="4.8" transform="rotate(12 267.5 677)"/>
<path d="M266.5,673.5 L268.5,677 L266.5,680" stroke="#fff" stroke-width="1" fill="none"/>
<path class="th" d="M275,668 Q272,676 274,686 M278,669.5 Q275.5,677 277.5,688" style="stroke-width:1.5"/>
<path class="p" d="M260,671 Q257.5,679 260,687"/>
<path class="pk" d="M259,684.5 L271.5,686.5 L271.3,689.5 L258,687.5 Z M272,685.5 L279.5,687 L279.3,690 L272,688.5 Z"/>
<!-- lower connector -->
<path class="th" d="M255.5,696.3 L270.8,698.3" style="stroke-width:2.2"/>
<path class="p" d="M259.5,689 L257,696 M263,689.5 L261.5,696.5 M266.5,690 L265.5,697 M254,700 L270,702 M258.5,699.5 L257,709.5 M262,700 L260.5,709"/>
<path class="pk" d="M257.5,690 L259.5,690 L257.5,696 L255.8,695.7 Z M252.3,704 L254.8,704.5 L254.5,710.5 L252.6,710 Z"/>
<circle class="p" cx="266.6" cy="705.2" r="1.4"/>
<path class="th" d="M257.3,687 L254.5,696 L252,705 M271.3,688.5 L270.8,702.5 L265.3,709" style="stroke-width:1.9"/>
<path class="th" d="M254,703 L270,705" style="stroke-width:1.3"/>
<path class="th" d="M263,665.5 Q259,668.5 258,676" style="stroke-width:1.8"/>
</g>

<!-- p20.svg -->
<g id="p20">
<!-- wire -->
<path d="M365,629.8 L452,674.5" stroke="#1a1a1a" stroke-width="4" fill="none" stroke-linecap="round"/>
<path d="M365,629.8 L452,674.5" stroke="#fff" stroke-width="2.1" fill="none" stroke-linecap="round"/>
<!-- back cylinder -->
<path class="pw" d="M475,667 L482.5,661.3 Q485,660.5 487.5,663 Q490.5,667 490,670.5 L489.5,672 L480,679.5 Z"/>
<!-- flange -->
<path class="thw" d="M463,666 Q464,663 467,663 Q469.5,663.5 472,667 L480.5,680 L478,684 L474,684.5 L464.5,672 Z" style="stroke-width:1.5"/>
<ellipse class="th" cx="466.2" cy="668.3" rx="1.8" ry="3.3" transform="rotate(-25 466.2 668.3)" style="stroke-width:1.3"/>
<path class="p" d="M470,664.5 L479.5,679 M475.5,669 L481.5,678"/>
<!-- front cylinder -->
<path class="pw" d="M458,675.5 L466,671 L478,684.5 L465,692.5 Z"/>
<path class="p" d="M458,675.5 L466,671 M465,692.5 L478,684.5"/>
<ellipse class="pw" cx="461.6" cy="684.3" rx="5.2" ry="8.6" transform="rotate(-28 461.6 684.3)" style="stroke-width:1.2"/>
<!-- elbow -->
<path class="pw" d="M451,673 Q453,671 456,672 L459.5,675 L456.5,681 Q453,681.5 451,679 Q449.5,676 451,673 Z"/>
<!-- screw 21 -->
<path class="pw" d="M419.5,702 L425.5,697.3 Q427.5,697.3 428.3,699.5 L428,701 L421.5,705.5 Z"/>
<path class="thw" d="M414,704.5 L418.5,702 Q421,703 421.5,706.5 L421,708 L417,710.5 Q414.5,710.5 413.3,708 Q412.8,706 414,704.5 Z" style="stroke-width:1.3"/>
<ellipse class="p" cx="416" cy="707.3" rx="2" ry="2.6" transform="rotate(-30 416 707.3)"/>
<circle cx="416" cy="707.3" r=".8" fill="#1a1a1a"/>
</g>

<!-- p22.svg -->
<g id="p22">
<!-- box -->
<path class="thw" d="M558.5,643.5 L568,638 L607,650 L606,668 L594,676 L558,667 Z" style="stroke-width:1.3"/>
<path class="p" d="M558.5,644 L594,656 L607,650 M594,656 L594,676 M561,645.5 L561,667.5 M585,654 L585,673.5 M592,657 L592,675 M562,642 L595,653.5 L605,649"/>
<path class="p" d="M571,649.5 L576,651 L576,661.5 L571,660 Z M574,648 L578,645 L582,646.5 M580,650 Q583,649 585,650.5"/>
<!-- terminal 1 -->
<path class="thw" d="M568.5,634 L571,631 L577,631 L580,634 L580,638.5 L577,641.5 L571,641.5 L568.5,638.5 Z" style="stroke-width:1.3"/>
<ellipse class="pw" cx="574.2" cy="634.5" rx="4.6" ry="2.5"/>
<path class="thw" d="M571.5,629 Q571.5,626.8 574,626.8 Q576.7,626.8 576.7,629 L576.7,633.5 Q574,635 571.5,633.5 Z" style="stroke-width:1.2"/>
<path class="p" d="M571.5,629.5 Q574,631 576.7,629.5 M571,641.5 L571,637 L577,637 L577,641.5"/>
<!-- terminal 2 -->
<ellipse class="thw" cx="590" cy="645" rx="8" ry="4.5" style="stroke-width:1.3"/>
<path class="thw" d="M583.5,638.5 L586,635.5 L593.5,635.5 L596.5,638.5 L596.5,643.5 L593.5,647 L586,647 L583.5,643.5 Z" style="stroke-width:1.3"/>
<ellipse class="pw" cx="590" cy="638.8" rx="5.2" ry="2.8"/>
<path class="thw" d="M587,634 Q587,631.8 590,631.8 Q593,631.8 593,634 L593,638.5 Q590,640 587,638.5 Z" style="stroke-width:1.2"/>
<path class="p" d="M587,634.5 Q590,636 593,634.5 M586,647 L586,642 L593.5,642 L593.5,647"/>
<path class="p" d="M580,639 L583.5,641 M578,642 L584,645.5"/>
<!-- cable -->
<path d="M575,643.5 Q567,645.5 563.5,655 L559.5,666 Q558.5,670.5 563,672 L607,688" stroke="#1a1a1a" stroke-width="6.6" fill="none" stroke-linejoin="round"/>
<path d="M575,643.5 Q567,645.5 563.5,655 L559.5,666 Q558.5,670.5 563,672 L607,688" stroke="#fff" stroke-width="4.6" fill="none" stroke-linejoin="round"/>
<path class="f" d="M562,667 L563.5,671.5"/>
<!-- connector -->
<path class="pw" d="M600.5,684 L606,681.5 L608,682 L607,694 L604.5,693 L599.5,690 Z"/>
<path class="p" d="M601.5,685 L604,690 M602,688 L605.5,686"/>
<path class="thw" d="M608,681 L618,683 L618.5,684.5 L624.5,686 L625,684.5 L636,688 L634.5,706 L625.5,702.5 L625.5,701 L618,698.5 L618,697 L606.5,693.5 Z" style="stroke-width:1.3"/>
<path class="p" d="M618,683 L618,697 M625,684.5 L625.5,701 M611,682 L610.5,694.5 M618.5,689 L625,691 M618.5,693 L625,695 M629,686 L628.5,703.5 M620,686 L623.5,687 L623.5,690 L620,689 Z"/>
<ellipse class="thw" cx="640.5" cy="698" rx="4.7" ry="10" transform="rotate(-8 640.5 698)" style="stroke-width:1.3"/>
<ellipse class="p" cx="641" cy="698.2" rx="3.2" ry="7.6" transform="rotate(-8 641 698.2)"/>
<path class="p" d="M636,688 L640,688 M634.5,706 L640,708"/>
</g>

<!-- p23.svg -->
<g id="p23">
<!-- plunger -->
<path class="pw" d="M246.5,873 L252.5,873 L252.5,878.5 L246.5,878.5 Z"/>
<path class="thw" d="M242,874.5 L240.8,880.5 Q241.5,883.5 246,885 L254,884.5 Q257,883 256,880 L255.3,877.5 L251,877 L250.5,879.5 L246,879.5 L245.5,875 Z" style="stroke-width:1.2"/>
<path class="p" d="M241,881 Q246,883.5 256,881"/>
<!-- cylinder -->
<path class="pw" d="M232.2,850 L232.9,866.8 Q236,872 244.8,873.8 Q255,874 261.6,869.6 Q263.5,868 263.5,866 L263.7,847 Z"/>
<path class="f" d="M256,852.8 L256,871.5 M236,854 L236.5,869"/>
<!-- ear -->
<path class="pw" d="M217,819.5 Q211.5,821.5 211.3,828 Q211.5,835.5 217.5,838.5 L226,841 L230,821 Z"/>
<ellipse class="pw" cx="225.3" cy="830.3" rx="9.6" ry="10.6" transform="rotate(15 225.3 830.3)" style="stroke-width:1.1"/>
<ellipse class="p" cx="225.5" cy="831" rx="4.6" ry="5.4" transform="rotate(15 225.5 831)"/>
<ellipse class="f" cx="226" cy="831.3" rx="3.2" ry="4" transform="rotate(15 226 831.3)"/>
<!-- main block -->
<path class="pw" d="M225.2,801 L229.4,794.7 L237.8,791.2 L246.2,793.3 L249.5,791 L256,790.5 L261.6,795.4 L267.2,798.9 L265.8,806.6 L265.8,845.8 L263.7,848.5 Q255,852.5 245.5,852 L237.8,851.4 L226.6,845.8 L225.9,838.8 Q233,836 234.5,830 Q234.5,823 230,819.5 L225.9,817.8 Z"/>
<path class="p" d="M229.4,794.7 L229.8,798.5 L225.2,801 M237.8,791.2 L238,794 M246.2,793.3 L246.3,796 M261.6,795.4 L261.3,800.5 M240.6,802.4 L249,796.8 L260.2,801 L248.3,807.3 Z M243,802.3 L249.2,798.5 L257,801.2 M248.3,807.3 L245.5,810 L245.5,851.8 M260.2,801 L265.8,806.6 M260.5,804 L261,812"/>
<path class="p" d="M229.8,798.5 L240.6,802.4 M233.5,806 Q234,803 237,803.5 L243,806 Q245,807.5 244.5,811 L244,814 Q240,816 236,813.5 L233.5,812 Z M233.5,806 L233.3,819 M240,815 L240,822 L245.5,820.5"/>
<path class="p" d="M234.5,830 L241,832 L241,846 M233.6,841.6 Q235,838.5 238.5,839.5 L241,841 M226.6,845.8 L233.6,841.6 L233.8,849"/>
<path class="p" d="M265.8,810 Q268.8,811 268.6,815.5 Q268.5,820 265.8,820.6 M265.8,836 Q267.2,836.5 267,839.5 L265.8,841.6"/>
<!-- bolts 24 -->
<path class="pw" d="M270.5,852.5 Q268,853 268.3,856 Q268.5,858 270,858.8 L287,869.8 L290.5,863.5 Z"/>
<path class="thw" d="M286.8,864.2 L290,861.5 L300.1,868.2 Q301,871 299.4,873.8 Q296.5,877.5 293.1,876.6 L287.5,872.4 Q285.5,868 286.8,864.2 Z" style="stroke-width:1.3"/>
<ellipse class="p" cx="295.5" cy="871.5" rx="3.7" ry="5" transform="rotate(25 295.5 871.5)"/>
<ellipse class="p" cx="295.7" cy="871.7" rx="2.2" ry="3.1" transform="rotate(25 295.7 871.7)"/>
<path class="pw" d="M306.5,837.8 Q304,838.3 304.2,841.3 Q304.4,843.3 306,844.2 L323.5,854.5 L326.5,848.5 Z"/>
<path class="thw" d="M323.2,848.8 L326.5,846 L335.8,852.1 Q336.8,855 335.1,857.7 Q332.5,861.8 329.5,861.2 L323.9,856.5 Q322,852.5 323.2,848.8 Z" style="stroke-width:1.3"/>
<ellipse class="p" cx="331.5" cy="855.5" rx="3.7" ry="5" transform="rotate(25 331.5 855.5)"/>
<ellipse class="p" cx="331.7" cy="855.7" rx="2.2" ry="3.1" transform="rotate(25 331.7 855.7)"/>
</g>

<!-- p25.svg -->
<g id="p25">
<!-- clip 27 back part -->
<path class="p" d="M478.8,793 Q481,798 488,800.5 Q496,803 503,800 Q508.5,797 507.3,793.5 Q505,790 497,789.3 Q488,789 483.5,792.3" style="stroke-width:1.5"/>
<!-- wire -->
<path d="M495,778.8 L495,803 Q495.5,818 501,826 Q506,833 513,838 Q524,846 531,852.5 Q537,858.5 541.5,865.5" stroke="#1a1a1a" stroke-width="3.5" fill="none"/>
<path d="M495,778.3 L495,803 Q495.5,818 501,826 Q506,833 513,838 Q524,846 531,852.5 Q537,858.5 541.5,865.5" stroke="#fff" stroke-width="1.6" fill="none"/>
<path class="p" d="M486,800 Q491,802.5 497.5,802" style="stroke-width:1.6"/>
<circle cx="479" cy="793.2" r="1.2" fill="#1a1a1a"/>
<!-- clip 2 -->
<path class="p" d="M521.9,825 Q514,828.5 510.5,836 Q507.5,844 511,849.5 Q514.5,853 518.5,849.5 Q522,845 521.9,838 L521.9,830" style="stroke-width:1.6"/>
<circle cx="521.9" cy="825" r="1.4" fill="#1a1a1a"/>
<!-- washers -->
<ellipse class="thw" cx="553.3" cy="857" rx="3.6" ry="5.3" transform="rotate(-35 553.3 857)" style="stroke-width:1.3"/>
<ellipse class="p" cx="553.3" cy="857" rx="1" ry="1.6" transform="rotate(-35 553.3 857)"/>
<ellipse class="thw" cx="545.8" cy="861.3" rx="3.6" ry="5.3" transform="rotate(-35 545.8 861.3)" style="stroke-width:1.3"/>
<ellipse class="p" cx="545.8" cy="861.3" rx="1" ry="1.6" transform="rotate(-35 545.8 861.3)"/>
<!-- bolt 21 -->
<path class="pk" d="M557,853 L563.5,849.5 L565,853 L558.5,856.3 Z"/>
<path class="thw" d="M563,848.5 L566.5,846.8 Q568.8,847.5 569,850 Q569,852 567.5,853 L565,854.3 Z" style="stroke-width:1.2"/>
<!-- lower clip -->
<path d="M541.3,864.4 Q548,866.5 550.5,875 Q551.5,884 546,892" stroke="#1a1a1a" stroke-width="1.4" fill="none" stroke-dasharray="2.4 .5"/>
<circle cx="545.3" cy="892.5" r="1.5" fill="#1a1a1a"/>
<!-- sensor 25 -->
<path class="thw" d="M535,869.5 Q537,865.5 541,866 Q544,867.5 543.8,872 Q542,878 537.5,879.5 L531,879 Z" style="stroke-width:1.3"/>
<ellipse class="p" cx="539" cy="869.5" rx="2.2" ry="3.4" transform="rotate(30 539 869.5)"/>
<path class="thw" d="M516.3,874 Q516.5,870.5 520,868.8 Q523,867.5 525.5,868.3 L536.5,875 L535,881.5 L528,880 L519.5,880 Q516.5,878 516.3,874 Z" style="stroke-width:1.3"/>
<ellipse class="p" cx="520.6" cy="874.8" rx="1.8" ry="2.2"/>
<path class="pw" d="M520,880.5 Q519.5,885 522.5,887.5 Q526,888.8 529,886.5 L536,881 L532,875.5 L526,876.5 Z"/>
<ellipse class="pw" cx="524" cy="883" rx="3.8" ry="4.8" transform="rotate(-30 524 883)"/>
<path class="pk" d="M540,884 L541.2,883.3 L542.8,887 L541.5,887.6 Z M530.5,886 L536,882.5 L537,884 L531.5,887.3 Z"/>
</g>

<!-- p26.svg -->
<g id="p26">
<!-- clip back -->
<path class="p" d="M710.2,828.7 Q713,834 719,837.5 Q726,841 733,839 Q738.5,836 738.3,830.5 Q737,826 730,825.2 Q722,825 717,828.5 L712,832.3" style="stroke-width:1.5"/>
<!-- sensor back cylinder -->
<path class="pw" d="M705,859 L709.5,857 Q713.5,856.5 715.5,859.5 Q717.3,863 716,866 L709,871 Z"/>
<!-- wire -->
<path d="M814.6,835.9 Q808,832 802,826 L784,808 Q778,801.5 772,802 Q760,804.5 748,809.8 Q738,815 730,822.4 L694,858.4 Q689.5,863 690,866 Q691.5,869.5 695,868.5 L699.4,866.5" stroke="#1a1a1a" stroke-width="3.6" fill="none" stroke-linejoin="round"/>
<path d="M815,836.1 Q808,832 802,826 L784,808 Q778,801.5 772,802 Q760,804.5 748,809.8 Q738,815 730,822.4 L694,858.4 Q689.5,863 690,866 Q691.5,869.5 695,868.5 L699.4,866.5" stroke="#fff" stroke-width="1.7" fill="none" stroke-linejoin="round"/>
<path class="p" d="M712,832.5 Q714,835 718.5,837.3" style="stroke-width:1.6"/>
<!-- sensor ring -->
<path class="thw" d="M700,861 Q703.5,859 706.5,861.5 Q709.5,865 708.3,870 Q706.5,875.5 702,877.5 Q698,878.8 695.5,876 Q694.5,874 695,871.5 Q697,873.5 699.5,872.5 Q702.5,870.5 702.3,867 Q702,864 700,863 Z" style="stroke-width:1.3"/>
<ellipse class="thw" cx="698.8" cy="867.5" rx="3.2" ry="4.6" transform="rotate(20 698.8 867.5)" style="stroke-width:1.3"/>
<path class="p" d="M706,861 Q708,864 707,869 M703,860 L706.5,858"/>
<!-- washers -->
<ellipse class="thw" cx="676.2" cy="876.3" rx="3.6" ry="5" transform="rotate(-20 676.2 876.3)" style="stroke-width:1.3"/>
<ellipse class="p" cx="676.2" cy="876.3" rx="1" ry="1.5" transform="rotate(-20 676.2 876.3)"/>
<ellipse class="thw" cx="685" cy="874.5" rx="3.6" ry="5" transform="rotate(-20 685 874.5)" style="stroke-width:1.3"/>
<ellipse class="p" cx="685" cy="874.5" rx="1" ry="1.5" transform="rotate(-20 685 874.5)"/>
<!-- bolt -->
<path class="ld" d="M662.5,880.9 L672.4,878.2"/>
<path class="pw" d="M654,881.5 L660.5,880 Q662,882 661.3,884.5 L654.8,886.3 Z"/>
<path class="pk" d="M649.5,882.5 L654,881.3 Q655.3,884 654.5,887 L650.3,888.3 Q647.8,886 649.5,882.5 Z"/>
<circle cx="651.3" cy="885.3" r="1" fill="#fff"/>
</g>

<!-- p29.svg -->
<g id="p29">
<!-- cable -->
<path d="M747,630.3 L811,593.4" stroke="#1a1a1a" stroke-width="3.4" fill="none"/>
<path d="M747,630.3 L811,593.4" stroke="#bbb" stroke-width="1.3" fill="none"/>
<!-- tip -->
<path class="thw" d="M809.5,590.5 L822.5,584 Q825.5,584 826,586.5 Q826.3,589 824,590 L811.5,596 Q809,596 808.5,593.5 Q808.3,591.5 809.5,590.5 Z" style="stroke-width:1.3"/>
<path class="pk" d="M809.5,590.8 L815,588 L816.5,593.3 L811.5,595.7 Q808.5,594 809.5,590.8 Z"/>
<ellipse class="p" cx="823.5" cy="587.3" rx="1.5" ry="2.4" transform="rotate(-25 823.5 587.3)"/>
<path class="p" d="M818.5,586.3 L820,591.5"/>
<!-- connector body -->
<path class="thw" d="M711,634.6 L737.7,621.6 L745.5,628.8 L747.5,635.9 L742.9,639.5 L718.2,652.8 L709.1,646.3 L707.8,637.2 Z" style="stroke-width:1.3"/>
<path class="pw" d="M707.8,637.5 Q708,635 711,634.6 L722.1,641.1 Q723.3,642 723,644 L721,651.5 Q720,653.5 718.2,652.8 L709.1,646.3 Z" style="stroke-width:1.3"/>
<path class="p" d="M722.1,641.1 L746,629 M733.5,623.7 L741,631 L743,639.3 M739.5,632 L746.5,633.5"/>
<path class="pk" d="M716,632.3 L727,627 L736,632 L726,638 Z"/>
<path d="M720,632 L727,628.7 L732.5,631.8 L726,635.5 Z" fill="#fff"/>
<path class="pk" d="M727,628.8 L730,627.3 L731,632.5 L728,633 Z M722.5,642 L729,639 L730,648 L722.5,651.5 Z"/>
<path d="M724,643.5 L728,641.8 L728.5,646.8 L724.5,648.8 Z" fill="#fff"/>
<path class="p" d="M730,639 L731,648 L739,643.5"/>
</g>
<g id="p31">
<rect class="thw" x="726.3" y="708.3" width="14.7" height="14.7" rx="1.2" style="stroke-width:1.5"/>
<path class="p" d="M728,718.5 L741,718.5 M728,711 L736,711 M736,709 L736,713 L741,713 M728,708.5 L728,722.5"/>
<path d="M741,712.5 L765,712.5 M741,715.5 L765,715.5 M741,718.5 L765,718.5" stroke="#333" stroke-width="1.6"/>
<path d="M741,714 L765,714 M741,717 L765,717" stroke="#999" stroke-width="1.4"/>
<path d="M779,712.5 L816.5,712.5 M779,715.5 L816.5,715.5 M779,718.5 L816.5,718.5" stroke="#333" stroke-width="1.6"/>
<path d="M779,714 L810,714 M779,717 L810,717" stroke="#999" stroke-width="1.4"/>
<path d="M768.5,710.5 L768.5,720.5" stroke="#1a1a1a" stroke-width="1.8"/>
<path d="M770,711.8 L775.5,711.8 M770,714.6 L775.5,714.6 M770,717.4 L775.5,717.4 M770,720 L775.5,720" stroke="#1a1a1a" stroke-width="1.3" stroke-dasharray="1.6 .9"/>
</g>

<!-- zz_text.svg -->
<g opacity=".999">
<line class="ld" x1="193" y1="64" x2="207" y2="104"/>
<line class="ld" x1="360.8" y1="62.8" x2="348" y2="104.4"/>
<line class="ld" x1="600" y1="94" x2="618" y2="119"/>
<line class="ld" x1="541" y1="125" x2="549" y2="156"/>
<line class="ld" x1="637" y1="76" x2="662" y2="99"/>
<line class="ld" x1="630" y1="207" x2="645" y2="184"/>
<line class="ld" x1="213" y1="305" x2="199.5" y2="329"/>
<line class="ld" x1="315.5" y1="307.5" x2="328" y2="334.5"/>
<line class="ld" x1="347.5" y1="279.5" x2="359.5" y2="305.5"/>
<line class="ld" x1="493" y1="293" x2="511" y2="319"/>
<line class="ld" x1="780" y1="281" x2="749" y2="306"/>
<line class="ld" x1="814" y1="318" x2="795" y2="338"/>
<line class="ld" x1="313" y1="478.4" x2="283" y2="493"/>
<line class="ld" x1="195.6" y1="485" x2="200" y2="467"/>
<line class="ld" x1="374" y1="503" x2="397" y2="492"/>
<line class="ld" x1="526" y1="444" x2="503" y2="460"/>
<line class="ld" x1="648" y1="464" x2="632" y2="494"/>
<line class="ld" x1="807" y1="492" x2="798" y2="469"/>
<line class="ld" x1="307" y1="631" x2="281" y2="673"/>
<line class="ld" x1="217" y1="690" x2="232" y2="670"/>
<line class="ld" x1="452" y1="635" x2="468" y2="667"/>
<line class="ld" x1="449" y1="715.6" x2="427" y2="704"/>
<line class="ld" x1="629" y1="617" x2="600" y2="642"/>
<line class="ld" x1="762" y1="579" x2="776" y2="612"/>
<line class="ld" x1="770" y1="685" x2="753" y2="712"/>
<line class="ld" x1="191" y1="791" x2="225" y2="805"/>
<line class="ld" x1="341" y1="887" x2="300" y2="873"/>
<line class="ld" x1="341" y1="887" x2="330" y2="861"/>
<line class="ld" x1="469" y1="815" x2="482" y2="799"/>
<line class="ld" x1="539" y1="831" x2="550" y2="855"/>
<line class="ld" x1="562" y1="823" x2="563" y2="848"/>
<line class="ld" x1="485" y1="870" x2="516" y2="874.4"/>
<line class="ld" x1="711.6" y1="800" x2="712" y2="830"/>
<line class="ld" x1="675.6" y1="841" x2="675.6" y2="873"/>
<line class="ld" x1="651" y1="856" x2="652" y2="882"/>
<line class="ld" x1="755" y1="873" x2="716" y2="863"/>
<text class="n" transform="translate(191,61.0) scale(1.02,1)">1</text>
<text class="n" transform="translate(362.9,57.4) scale(1.02,1)">2</text>
<text class="n" transform="translate(595,90.0) scale(1.02,1)">3</text>
<text class="n" transform="translate(537,121.0) scale(1.02,1)">4</text>
<text class="n" transform="translate(631,75.0) scale(1.02,1)">5</text>
<text class="n" transform="translate(622,223.0) scale(1.02,1)">30</text>
<text class="n" transform="translate(215.5,300.0) scale(1.02,1)">6</text>
<text class="n" transform="translate(311,301.0) scale(1.02,1)">7</text>
<text class="n" transform="translate(343.5,276.0) scale(1.02,1)">8</text>
<text class="n" transform="translate(487.4,288.0) scale(1.02,1)">9</text>
<text class="n" transform="translate(787,279.0) scale(1.02,1)">10</text>
<text class="n" transform="translate(825,315.0) scale(1.02,1)">11</text>
<text class="n" transform="translate(324,477.0) scale(1.02,1)">12</text>
<text class="n" transform="translate(191.6,503.0) scale(1.02,1)">13</text>
<text class="n" transform="translate(361,511.0) scale(1.02,1)">14</text>
<text class="n" transform="translate(536,443.0) scale(1.02,1)">15</text>
<text class="n" transform="translate(655,458.0) scale(1.02,1)">16</text>
<text class="n" transform="translate(809,509.0) scale(1.02,1)">17</text>
<text class="n" transform="translate(312.6,627.0) scale(1.02,1)">18</text>
<text class="n" transform="translate(208,704.0) scale(1.02,1)">19</text>
<text class="n" transform="translate(446.6,629.0) scale(1.02,1)">20</text>
<text class="n" transform="translate(461,724.0) scale(1.02,1)">21</text>
<text class="n" transform="translate(636.4,614.0) scale(1.02,1)">22</text>
<text class="n" transform="translate(756,575.0) scale(1.02,1)">29</text>
<text class="n" transform="translate(775,682.0) scale(1.02,1)">31</text>
<text class="n" transform="translate(178.4,795.0) scale(1.02,1)">23</text>
<text class="n" transform="translate(354,898.0) scale(1.02,1)">24</text>
<text class="n" transform="translate(457,826.6) scale(1.02,1)">27</text>
<text class="n" transform="translate(533.4,827.0) scale(1.02,1)">28</text>
<text class="n" transform="translate(561,819.0) scale(1.02,1)">21</text>
<text class="n" transform="translate(471.6,874.0) scale(1.02,1)">25</text>
<text class="n" transform="translate(710.6,791.0) scale(1.02,1)">27</text>
<text class="n" transform="translate(674,832.6) scale(1.02,1)">28</text>
<text class="n" transform="translate(649.6,850.6) scale(1.02,1)">21</text>
<text class="n" transform="translate(767,878.6) scale(1.02,1)">26</text>
<text class="t" x="223.7" y="225.4" textLength="120.3" lengthAdjust="spacingAndGlyphs">Handlebar Switches</text>
<text class="t" x="702" y="121.4" textLength="133.0" lengthAdjust="spacingAndGlyphs">Sensor, Gear Position</text>
<text class="t" x="176.5" y="379.4" textLength="64.5" lengthAdjust="spacingAndGlyphs">Thermister</text>
<text class="t" x="288.5" y="384.9" textLength="138.0" lengthAdjust="spacingAndGlyphs">Sensor, Vehicle Speed</text>
<text class="t" x="460" y="384.4" textLength="147.0" lengthAdjust="spacingAndGlyphs">Module, Load, Tip Over</text>
<text class="t" x="677.6" y="383.4" textLength="58.0" lengthAdjust="spacingAndGlyphs">Regulator</text>
<text class="t" x="242.6" y="545.1" textLength="28.4" lengthAdjust="spacingAndGlyphs">Horn</text>
<text class="t" x="389" y="580.3" textLength="138.0" lengthAdjust="spacingAndGlyphs">Engine Control Module</text>
<text class="t" x="584" y="556.4" textLength="122.0" lengthAdjust="spacingAndGlyphs">Switch, Oil Pressure</text>
<text class="t" x="756.6" y="530.0" textLength="97.0" lengthAdjust="spacingAndGlyphs">Sensor, Oxygen</text>
<text class="t" x="215.6" y="742.2" textLength="88.4" lengthAdjust="spacingAndGlyphs">Sensor, T Map</text>
<text class="t" x="400" y="746.0" textLength="139.0" lengthAdjust="spacingAndGlyphs">Sensor, Crank Position</text>
<text class="t" x="558" y="717.4" textLength="52.0" lengthAdjust="spacingAndGlyphs">Solenoid</text>
<text class="t" x="758" y="655.2" textLength="75.6" lengthAdjust="spacingAndGlyphs">USB Module</text>
<text class="s" x="719.6" y="749.2" textLength="76.0" lengthAdjust="spacingAndGlyphs">Kit, Connector</text>
<text class="s" x="704.7" y="762.1" textLength="125.3" lengthAdjust="spacingAndGlyphs">Headlight Relpacement</text>
<text class="t" x="211" y="900.0" textLength="113.0" lengthAdjust="spacingAndGlyphs">Switch, Side Stand</text>
<text class="t" x="248" y="914.1" textLength="30.0" lengthAdjust="spacingAndGlyphs">INTL</text>
<text class="t" x="432" y="920.8" textLength="166.6" lengthAdjust="spacingAndGlyphs">Speed Sensor, Front Wheel</text>
<text class="t" x="657.6" y="911.4" textLength="165.4" lengthAdjust="spacingAndGlyphs">Speed Sensor, Rear Wheel</text>
<circle cx="153.7" cy="944.6" r="6.6" fill="none" stroke="#1c1c1c" stroke-width="1"/>
<text x="153.7" y="948.4" style="font-size:10.5px;text-anchor:middle;stroke-width:.4px">C</text>
<text x="167" y="950" style="font-size:15px;stroke-width:.35px" textLength="229.4" lengthAdjust="spacingAndGlyphs">2018 Indian Motorcycle International, LLC</text>
<text x="793.6" y="945.5" style="font-size:18.3px;stroke-width:.35px" textLength="60" lengthAdjust="spacingAndGlyphs">200586</text>
</g>

</svg>
</body></html>
